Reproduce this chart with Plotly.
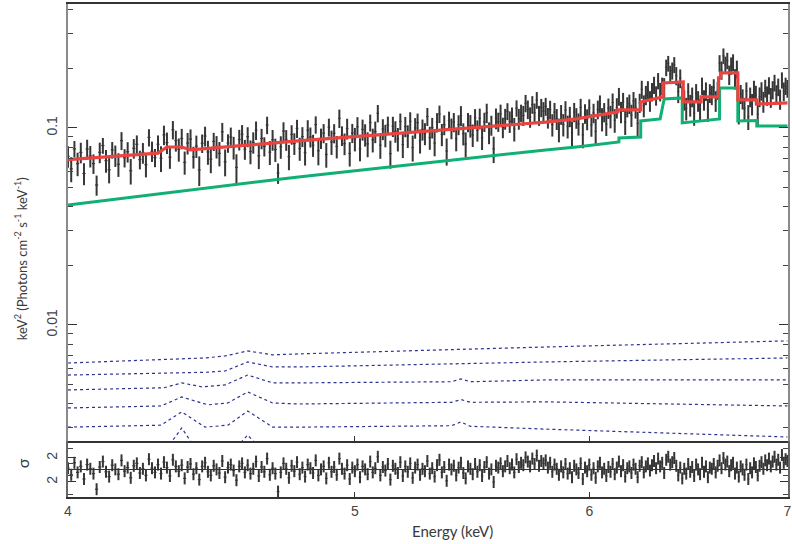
import numpy as np
import plotly.graph_objects as go
from plotly.subplots import make_subplots

# ---------------- observed spectrum (0.01 keV channels) ----------------
energy_kev = [
    4.00, 4.01, 4.02, 4.03, 4.04, 4.05, 4.06, 4.07, 4.08, 4.09,
    4.10, 4.11, 4.12, 4.13, 4.14, 4.15, 4.16, 4.17, 4.18, 4.19,
    4.20, 4.21, 4.22, 4.23, 4.24, 4.25, 4.26, 4.27, 4.28, 4.29,
    4.30, 4.31, 4.32, 4.33, 4.34, 4.35, 4.36, 4.37, 4.38, 4.39,
    4.40, 4.41, 4.42, 4.43, 4.44, 4.45, 4.46, 4.47, 4.48, 4.49,
    4.50, 4.51, 4.52, 4.53, 4.54, 4.55, 4.56, 4.57, 4.58, 4.59,
    4.60, 4.61, 4.62, 4.63, 4.64, 4.65, 4.66, 4.67, 4.68, 4.69,
    4.70, 4.71, 4.72, 4.73, 4.74, 4.75, 4.76, 4.77, 4.78, 4.79,
    4.80, 4.81, 4.82, 4.83, 4.84, 4.85, 4.86, 4.87, 4.88, 4.89,
    4.90, 4.91, 4.92, 4.93, 4.94, 4.95, 4.96, 4.97, 4.98, 4.99,
    5.00, 5.01, 5.02, 5.03, 5.04, 5.05, 5.06, 5.07, 5.08, 5.09,
    5.10, 5.11, 5.12, 5.13, 5.14, 5.15, 5.16, 5.17, 5.18, 5.19,
    5.20, 5.21, 5.22, 5.23, 5.24, 5.25, 5.26, 5.27, 5.28, 5.29,
    5.30, 5.31, 5.32, 5.33, 5.34, 5.35, 5.36, 5.37, 5.38, 5.39,
    5.40, 5.41, 5.42, 5.43, 5.44, 5.45, 5.46, 5.47, 5.48, 5.49,
    5.50, 5.51, 5.52, 5.53, 5.54, 5.55, 5.56, 5.57, 5.58, 5.59,
    5.60, 5.61, 5.62, 5.63, 5.64, 5.65, 5.66, 5.67, 5.68, 5.69,
    5.70, 5.71, 5.72, 5.73, 5.74, 5.75, 5.76, 5.77, 5.78, 5.79,
    5.80, 5.81, 5.82, 5.83, 5.84, 5.85, 5.86, 5.87, 5.88, 5.89,
    5.90, 5.91, 5.92, 5.93, 5.94, 5.95, 5.96, 5.97, 5.98, 5.99,
    6.00, 6.01, 6.02, 6.03, 6.04, 6.05, 6.06, 6.07, 6.08, 6.09,
    6.10, 6.11, 6.12, 6.13, 6.14, 6.15, 6.16, 6.17, 6.18, 6.19,
    6.20, 6.21, 6.22, 6.23, 6.24, 6.25, 6.26, 6.27, 6.28, 6.29,
    6.30, 6.31, 6.32, 6.33, 6.34, 6.35, 6.36, 6.37, 6.38, 6.39,
    6.40, 6.41, 6.42, 6.43, 6.44, 6.45, 6.46, 6.47, 6.48, 6.49,
    6.50, 6.51, 6.52, 6.53, 6.54, 6.55, 6.56, 6.57, 6.58, 6.59,
    6.60, 6.61, 6.62, 6.63, 6.64, 6.65, 6.66, 6.67, 6.68, 6.69,
    6.70, 6.71, 6.72, 6.73, 6.74, 6.75, 6.76, 6.77, 6.78, 6.79,
    6.80, 6.81, 6.82, 6.83, 6.84, 6.85, 6.86, 6.87, 6.88, 6.89,
    6.90, 6.91, 6.92, 6.93, 6.94, 6.95, 6.96, 6.97, 6.98, 6.99,
    7.00,
]

# E^2 F(E) in units of 1e-3 keV^2 photons cm^-2 s^-1 keV^-1
flux_milli = [
    71.7, 62.0, 78.3, 65.9, 75.1, 58.7, 78.1, 72.0, 65.9, 51.3,
    75.2, 81.4, 68.3, 61.3, 77.3, 72.4, 65.4, 86.2, 70.5, 75.7,
    60.6, 78.8, 82.6, 69.1, 74.8, 65.1, 89.5, 76.2, 70.7, 82.6,
    70.2, 92.2, 84.2, 71.0, 97.9, 86.3, 77.9, 88.4, 66.9, 83.8,
    87.8, 71.2, 80.9, 61.2, 83.6, 91.0, 75.5, 69.4, 85.4, 80.4,
    74.3, 95.5, 67.3, 83.8, 89.9, 79.6, 63.0, 87.3, 92.9, 77.9,
    90.3, 75.9, 84.5, 97.3, 72.3, 88.4, 80.6, 103.5, 75.3, 87.1,
    77.7, 59.0, 80.2, 96.3, 87.0, 71.5, 92.7, 83.4, 99.4, 78.6,
    90.4, 74.9, 97.4, 90.0, 81.8, 104.0, 76.6, 88.7, 94.1, 73.3,
    100.9, 84.9, 94.0, 80.5, 111.9, 91.4, 83.2, 99.3, 74.2, 94.3,
    88.0, 101.4, 78.2, 98.2, 92.4, 83.0, 106.4, 87.1, 95.7, 118.7,
    81.7, 98.7, 91.7, 103.6, 74.1, 101.9, 96.1, 87.9, 107.8, 82.3,
    101.7, 91.1, 108.1, 79.5, 100.1, 106.3, 86.1, 98.3, 93.7, 114.3,
    89.4, 100.4, 83.8, 106.8, 117.8, 92.8, 103.8, 76.4, 109.0, 99.6,
    107.1, 88.1, 103.9, 115.5, 93.5, 82.9, 107.1, 102.8, 92.0, 112.6,
    97.2, 111.8, 89.2, 107.4, 119.2, 94.7, 103.3, 78.3, 112.0, 107.5,
    117.8, 100.7, 111.4, 121.5, 107.8, 114.8, 98.8, 126.0, 111.4, 119.2,
    115.8, 133.6, 124.3, 113.7, 131.5, 119.5, 138.6, 115.9, 126.9, 121.7,
    128.6, 112.7, 123.8, 103.9, 120.4, 111.2, 98.0, 117.2, 104.0, 123.2,
    101.9, 114.4, 94.4, 120.4, 112.5, 104.9, 127.0, 92.3, 118.4, 110.8,
    126.2, 103.7, 119.1, 96.0, 124.1, 132.7, 111.0, 120.2, 104.5, 126.0,
    114.5, 134.5, 109.5, 126.6, 144.6, 120.6, 135.6, 107.1, 128.1, 132.6,
    116.1, 137.1, 126.6, 105.6, 134.1, 157.0, 129.7, 147.0, 156.2, 137.2,
    152.8, 165.2, 146.2, 173.4, 152.8, 163.5, 159.5, 202.6, 212.5, 187.4,
    195.4, 209.2, 184.1, 153.1, 178.6, 143.7, 138.8, 125.6, 152.0, 130.6,
    143.8, 119.0, 150.4, 137.2, 124.0, 163.5, 138.8, 153.6, 123.9, 150.3,
    147.0, 160.2, 137.1, 155.3, 213.0, 196.5, 232.2, 209.1, 219.6, 186.0,
    207.0, 215.4, 177.6, 198.6, 120.7, 148.7, 140.5, 125.6, 153.7, 114.1,
    143.8, 132.2, 157.0, 147.1, 117.5, 144.0, 154.0, 135.9, 159.1, 146.0,
    164.3, 142.9, 156.2, 169.5, 148.2, 161.5, 140.1, 174.9, 153.5, 163.5,
    158.8,
]

err_milli = [
    9.0, 9.0, 7.5, 9.0, 9.0, 7.5, 9.0, 9.0, 7.5, 6.0,
    9.0, 7.5, 9.0, 9.0, 7.5, 9.0, 9.0, 9.0, 7.5, 9.0,
    9.0, 9.0, 9.0, 7.5, 9.0, 9.0, 9.0, 9.0, 7.5, 9.0,
    10.5, 10.5, 10.5, 9.0, 10.5, 10.5, 10.5, 10.5, 9.0, 10.5,
    10.5, 9.0, 10.5, 10.5, 9.0, 10.5, 10.5, 10.5, 9.0, 10.5,
    10.5, 10.5, 10.5, 9.0, 10.5, 10.5, 10.5, 10.5, 10.5, 9.0,
    10.5, 10.5, 10.5, 10.5, 10.5, 10.5, 9.0, 10.5, 10.5, 10.5,
    10.5, 7.0, 10.5, 10.5, 10.5, 10.5, 10.5, 10.5, 10.5, 10.5,
    10.5, 10.5, 12.0, 10.5, 10.5, 10.5, 12.0, 10.5, 10.5, 10.5,
    10.5, 12.0, 10.5, 10.5, 12.0, 10.5, 10.5, 12.0, 10.5, 10.5,
    12.0, 12.0, 10.5, 12.0, 12.0, 12.0, 10.5, 12.0, 12.0, 12.0,
    12.0, 12.0, 12.0, 10.5, 12.0, 12.0, 12.0, 12.0, 10.5, 12.0,
    12.0, 12.0, 12.0, 12.0, 12.0, 12.0, 12.0, 12.0, 12.0, 12.0,
    12.0, 12.0, 12.0, 12.0, 12.0, 12.0, 12.0, 12.0, 12.0, 12.0,
    12.0, 12.0, 12.0, 13.5, 12.0, 12.0, 12.0, 13.5, 12.0, 12.0,
    12.0, 13.5, 12.0, 12.0, 13.5, 12.0, 12.0, 12.0, 13.5, 12.0,
    13.5, 12.0, 13.5, 12.0, 13.5, 12.0, 13.5, 12.0, 13.5, 12.0,
    13.5, 13.5, 13.5, 13.5, 13.5, 13.5, 13.5, 13.5, 13.5, 13.5,
    13.5, 13.5, 13.5, 13.5, 13.5, 13.5, 13.5, 13.5, 13.5, 13.5,
    13.5, 13.5, 13.5, 13.5, 13.5, 13.5, 13.5, 13.5, 13.5, 13.5,
    13.5, 13.5, 13.5, 15.0, 13.5, 13.5, 15.0, 13.5, 13.5, 15.0,
    15.0, 15.0, 15.0, 15.0, 15.0, 15.0, 15.0, 15.0, 15.0, 15.0,
    15.0, 15.0, 15.0, 15.0, 15.0, 16.5, 16.5, 16.5, 16.5, 16.5,
    16.5, 16.5, 16.5, 16.5, 16.5, 16.5, 19.5, 19.5, 19.5, 19.5,
    19.5, 19.5, 19.5, 19.5, 19.5, 19.5, 16.5, 16.5, 16.5, 16.5,
    16.5, 16.5, 16.5, 16.5, 16.5, 16.5, 16.5, 16.5, 16.5, 16.5,
    16.5, 16.5, 16.5, 16.5, 21.0, 21.0, 21.0, 21.0, 21.0, 21.0,
    21.0, 21.0, 21.0, 21.0, 16.5, 16.5, 16.5, 16.5, 16.5, 16.5,
    16.5, 16.5, 16.5, 16.5, 16.5, 16.5, 16.5, 16.5, 16.5, 16.5,
    16.5, 16.5, 16.5, 16.5, 16.5, 16.5, 16.5, 16.5, 16.5, 16.5,
    16.5,
]

# (data - model) / error
resid_sigma = [
    0.3, -0.8, 1.2, -0.4, 0.6, -1.5, 0.9, 0.2, -0.6, -3.2,
    0.5, 1.4, -0.3, -1.1, 0.8, 0.1, -0.7, 1.6, -0.2, 0.4,
    -1.3, 0.7, 1.1, -0.5, 0.2, -0.9, 1.8, 0.3, -0.4, 0.9,
    -0.6, 1.3, 0.4, -1.0, 1.7, 0.6, -0.2, 0.8, -1.4, 0.5,
    1.0, -0.7, 0.3, -1.6, 0.6, 1.2, -0.3, -0.9, 0.7, 0.1,
    -0.5, 1.5, -1.2, 0.4, 0.9, -0.1, -1.7, 0.6, 1.1, -0.4,
    0.8, -0.6, 0.2, 1.4, -1.0, 0.5, -0.3, 1.9, -0.8, 0.3,
    -0.6, -3.6, -0.4, 1.1, 0.2, -1.3, 0.7, -0.2, 1.3, -0.7,
    0.4, -1.1, 0.9, 0.3, -0.5, 1.6, -0.9, 0.1, 0.6, -1.4,
    1.2, -0.3, 0.5, -0.8, 1.9, 0.2, -0.6, 0.8, -1.5, 0.4,
    -0.2, 0.9, -1.2, 0.6, 0.1, -0.7, 1.4, -0.4, 0.3, 2.2,
    -0.9, 0.5, -0.1, 1.0, -1.6, 0.7, 0.2, -0.5, 1.3, -1.0,
    0.6, -0.3, 1.1, -1.3, 0.4, 0.9, -0.8, 0.2, -0.2, 1.5,
    -0.6, 0.3, -1.1, 0.8, 1.7, -0.4, 0.5, -1.8, 0.9, 0.1,
    0.7, -0.9, 0.4, 1.2, -0.5, -1.4, 0.6, 0.2, -0.7, 1.0,
    -0.3, 0.8, -1.0, 0.5, 1.3, -0.6, 0.1, -2.0, 0.7, 0.4,
    1.1, -0.2, 0.6, 1.5, 0.3, 0.9, -0.4, 1.8, 0.5, 1.2,
    0.8, 2.1, 1.4, 0.6, 1.9, 1.0, 2.4, 0.7, 1.5, 1.1,
    1.6, 0.4, 1.2, -0.3, 0.9, 0.2, -0.8, 0.6, -0.4, 1.0,
    -0.6, 0.3, -1.2, 0.7, 0.1, -0.5, 1.1, -1.5, 0.4, -0.2,
    0.9, -0.8, 0.3, -1.3, 0.6, 1.2, -0.4, 0.2, -1.0, 0.5,
    -0.3, 1.0, -0.7, 0.4, 1.4, -0.2, 0.8, -1.1, 0.3, 0.6,
    -0.5, 0.9, 0.2, -1.2, 0.7, 1.3, -0.4, 0.6, 1.1, -0.1,
    0.8, 1.5, 0.3, 1.9, 0.6, 1.2, -0.5, 1.7, 2.2, 0.9,
    1.3, 2.0, 0.7, -0.9, 0.4, -1.4, 0.2, -0.6, 1.0, -0.3,
    0.5, -1.0, 0.9, 0.1, -0.7, 1.2, -0.3, 0.6, -1.2, 0.4,
    0.2, 1.0, -0.4, 0.7, 1.6, 0.3, 2.0, 0.9, 1.4, -0.2,
    0.8, 1.2, -0.6, 0.4, -1.1, 0.6, 0.1, -0.8, 0.9, -1.5,
    0.3, -0.4, 1.1, 0.5, -0.9, 0.7, 1.3, 0.2, 1.6, 0.8,
    1.9, 0.6, 1.4, 2.2, 0.9, 1.7, 0.4, 2.5, 1.2, 1.8,
    1.5,
]

# ---------------- model components ----------------
total_e = [4.00, 4.285, 4.29, 4.32, 4.37, 4.40, 4.785, 5.80, 5.94, 6.135, 6.135,
           6.245, 6.245, 6.355, 6.355, 6.455, 6.455, 6.545, 6.545, 6.635, 6.635,
           6.645, 6.645, 6.735, 6.735, 6.835, 6.835, 7.00]
total_f = [0.0690, 0.0738, 0.0745, 0.0800, 0.0800, 0.0773, 0.0859, 0.1070, 0.1111, 0.1206, 0.1236,
           0.1236, 0.1355, 0.1437, 0.1692, 0.1712, 0.1355, 0.1355, 0.1437, 0.1437, 0.1794,
           0.1794, 0.1902, 0.1902, 0.1388, 0.1388, 0.1323, 0.1340]

cont_e = [4.00, 4.785, 5.80, 5.94, 6.14, 6.14, 6.245, 6.245, 6.34, 6.36, 6.45, 6.45,
          6.64, 6.64, 6.735, 6.735, 6.835, 6.835, 7.00]
cont_f = [0.0406, 0.0564, 0.0773, 0.0801, 0.0849, 0.0890, 0.0900, 0.1085, 0.1111, 0.1404, 0.1420, 0.1060,
          0.1111, 0.1596, 0.1596, 0.1085, 0.1090, 0.1024, 0.1024]

comp1_e = [4.00, 4.45, 4.52, 4.60, 4.69, 4.785, 5.80, 7.00]
comp1_f = [0.00641, 0.00680, 0.00696, 0.00738, 0.00705, 0.00713, 0.00773, 0.00830]
comp2_e = [4.00, 4.45, 4.52, 4.60, 4.69, 4.785, 5.80, 7.00]
comp2_f = [0.00557, 0.00575, 0.00584, 0.00649, 0.00612, 0.00612, 0.00649, 0.00680]
comp3_e = [4.00, 4.31, 4.37, 4.44, 4.52, 4.60, 4.69, 4.785, 5.39, 5.43, 5.47, 5.80, 7.00]
comp3_f = [0.00468, 0.00480, 0.00508, 0.00485, 0.00496, 0.00557, 0.00508, 0.00508,
           0.00515, 0.00532, 0.00515, 0.00526, 0.00526]
comp4_e = [4.00, 4.30, 4.37, 4.46, 4.53, 4.60, 4.69, 4.785, 5.39, 5.43, 5.47, 5.80, 7.00]
comp4_f = [0.00379, 0.00388, 0.00431, 0.00393, 0.00402, 0.00457, 0.00402, 0.00397,
           0.00405, 0.00418, 0.00405, 0.00407, 0.00388]
comp5_e = [4.00, 4.30, 4.37, 4.45, 4.53, 4.60, 4.69, 4.785, 5.39, 5.43, 5.47, 5.80, 7.00]
comp5_f = [0.00303, 0.00310, 0.00362, 0.00303, 0.00310, 0.00366, 0.00303, 0.00303,
           0.00308, 0.00322, 0.00306, 0.00296, 0.00270]
comp6_e = [4.00, 4.30, 4.37, 4.44, 4.53, 4.60, 4.68, 5.80, 7.00]
comp6_f = [0.00200, 0.00215, 0.00300, 0.00210, 0.00215, 0.00276, 0.00210, 0.00200, 0.00175]

components = [(comp1_e, comp1_f), (comp2_e, comp2_f), (comp3_e, comp3_f),
              (comp4_e, comp4_f), (comp5_e, comp5_f), (comp6_e, comp6_f)]

flux = np.array(flux_milli) * 1e-3
flux_err = np.array(err_milli) * 1e-3

# ---------------- figure ----------------
W, H = 792, 544
ML, MR, MT, MB = 68, 0, 4, 47
pw, ph = W - ML - MR, H - MT - MB
res_frac = (497 - 441) / ph

fig = make_subplots(rows=2, cols=1, shared_xaxes=True, vertical_spacing=0,
                    row_heights=[1 - res_frac, res_frac])

DATA_COL = "#363636"
BLUE = "#2f3390"

for ce, cf in components:
    fig.add_trace(go.Scatter(x=ce, y=cf, mode="lines",
                             line=dict(color=BLUE, width=1.2, dash="dot"),
                             hoverinfo="skip", showlegend=False), row=1, col=1)

fig.add_trace(go.Scatter(
    x=energy_kev, y=flux, mode="markers",
    marker=dict(size=1, color=DATA_COL),
    error_y=dict(type="data", array=flux_err, color=DATA_COL, thickness=2.0, width=0),
    error_x=dict(type="constant", value=0.005, color=DATA_COL, thickness=1.2, width=0),
    showlegend=False), row=1, col=1)

fig.add_trace(go.Scatter(x=cont_e, y=cont_f, mode="lines",
                         line=dict(color="#10b074", width=3),
                         showlegend=False), row=1, col=1)
fig.add_trace(go.Scatter(x=total_e, y=total_f, mode="lines",
                         line=dict(color="#ea4440", width=3.2),
                         showlegend=False), row=1, col=1)

fig.add_trace(go.Scatter(
    x=energy_kev, y=resid_sigma, mode="markers",
    marker=dict(size=1, color=DATA_COL),
    error_y=dict(type="constant", value=1.0, color=DATA_COL, thickness=2.0, width=0),
    error_x=dict(type="constant", value=0.005, color=DATA_COL, thickness=1.2, width=0),
    showlegend=False), row=2, col=1)

TICK_FONT = dict(family="Liberation Sans, Arial, sans-serif", size=14, color="#444")
xrange = [np.log10(4), np.log10(7.003)]

common_x = dict(type="log", range=xrange, tickvals=[4, 5, 6, 7], ticktext=["4", "5", "6", "7"],
                ticks="inside", ticklen=5, tickcolor="#333", showline=True, linecolor="#333",
                linewidth=1.5, showgrid=False, zeroline=False, tickfont=TICK_FONT)
# upper panel: frame line on top and on the shared boundary
fig.update_xaxes(**common_x, mirror=True, showticklabels=False, row=1, col=1)
# residual panel: only its own bottom line
fig.update_xaxes(**common_x, mirror=False, showticklabels=True,
                 ticklabeloverflow="allow", row=2, col=1)

minor_vals = [0.003, 0.004, 0.005, 0.006, 0.007, 0.008, 0.009,
              0.02, 0.03, 0.04, 0.05, 0.06, 0.07, 0.08, 0.09, 0.2, 0.3, 0.4]
fig.update_yaxes(type="log", range=[-2.589, -0.371], tickvals=[0.01, 0.1], ticktext=["0.01", "0.1"],
                 tickangle=-90, ticks="inside", ticklen=9, tickcolor="#333",
                 minor=dict(tickvals=minor_vals, ticks="inside", ticklen=5, tickcolor="#444"),
                 showline=True, linecolor="#8a8a8a", linewidth=1.6, mirror="ticks",
                 showgrid=False, zeroline=False, tickfont=TICK_FONT, ticklabelstandoff=4,
                 row=1, col=1)
fig.update_yaxes(range=[-4.5, 4.83], tickvals=[-2, 2], ticktext=["2", "2"], tickangle=-90,
                 ticks="inside", ticklen=8, tickcolor="#333",
                 minor=dict(tickvals=[-4, -1, 1, 3.5], ticks="inside", ticklen=5, tickcolor="#444"),
                 showline=True, linecolor="#666", linewidth=1.5, mirror="ticks",
                 showgrid=False, zeroline=True, zerolinecolor="#333", zerolinewidth=1.2,
                 tickfont=TICK_FONT, ticklabelstandoff=4, row=2, col=1)

LABEL_FONT = dict(family="Lato, Open Sans, sans-serif", size=14, color="#3a3a3a")
fig.add_annotation(text="keV<sup>2</sup> (Photons cm<sup>-2</sup> s<sup>-1</sup> keV<sup>-1</sup>)",
                   xref="paper", yref="paper", x=(20 - ML) / pw, y=(497 - 259) / ph,
                   textangle=-90, showarrow=False, font=dict(LABEL_FONT, size=13),
                   xanchor="center", yanchor="middle")
fig.add_annotation(text="σ", xref="paper", yref="paper", x=(22 - ML) / pw, y=(497 - 463) / ph,
                   textangle=-90, showarrow=False, font=dict(LABEL_FONT, size=16),
                   xanchor="center", yanchor="middle")
fig.add_annotation(text="Energy (keV)", xref="paper", yref="paper", x=(455 - ML) / pw,
                   y=(497 - 531) / ph, showarrow=False, font=dict(LABEL_FONT, size=15),
                   xanchor="center", yanchor="middle")

fig.update_layout(width=W, height=H, margin=dict(l=ML, r=MR, t=MT, b=MB),
                  paper_bgcolor="white", plot_bgcolor="white", showlegend=False)

fig.write_html("out.html")
